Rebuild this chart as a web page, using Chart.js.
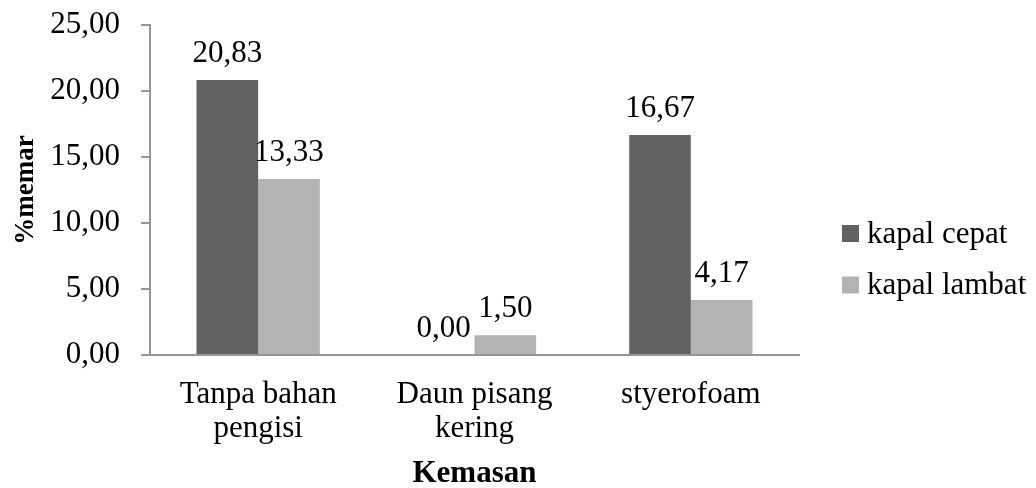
<!DOCTYPE html>
<html>
<head>
<meta charset="utf-8">
<script src="https://cdn.jsdelivr.net/npm/chart.js@4/dist/chart.umd.min.js"></script>
<style>
  html, body { margin: 0; padding: 0; background: #ffffff; }
  #wrap { width: 1036px; height: 488px; position: relative; }
</style>
</head>
<body>
<div id="wrap"><canvas id="c" width="1036" height="488"></canvas></div>
<script>
// Packaging types (category axis)
const categories = [["Tanpa bahan", "pengisi"], ["Daun pisang", "kering"], ["styerofoam"]];
// Bruising percentage per boat type
const seriesNames = ["kapal cepat", "kapal lambat"];
const kapalCepat = [20.83, 0.00, 16.67];
const kapalLambat = [13.33, 1.50, 4.17];
// Value axis ticks
const yTicks = [0, 5, 10, 15, 20, 25];

const FONT = "'Liberation Serif', 'Times New Roman', serif";
const DARK = '#626262';
const LIGHT = '#b3b3b3';
const AXIS = '#969696';

const fmt = v => Number(v).toFixed(2).replace('.', ',');

// Value labels above each bar
const valueLabels = {
  id: 'valueLabels',
  afterDatasetsDraw(chart) {
    const ctx = chart.ctx;
    ctx.save();
    ctx.font = '31px ' + FONT;
    ctx.fillStyle = '#000';
    ctx.textAlign = 'center';
    ctx.textBaseline = 'alphabetic';
    chart.data.datasets.forEach((ds, di) => {
      const meta = chart.getDatasetMeta(di);
      meta.data.forEach((bar, i) => {
        ctx.fillText(fmt(ds.data[i]), bar.x, bar.y - 18);
      });
    });
    ctx.restore();
  }
};

// Legend on the right: square swatch followed by the series name
const sideLegend = {
  id: 'sideLegend',
  afterDraw(chart) {
    const ctx = chart.ctx;
    const area = chart.chartArea;
    const boxX = area.right + 43;
    const firstTop = 225;
    const rowGap = 51.5;
    const box = 17;
    ctx.save();
    ctx.font = '31px ' + FONT;
    ctx.textBaseline = 'alphabetic';
    ctx.textAlign = 'left';
    chart.data.datasets.forEach((ds, i) => {
      const top = firstTop + i * rowGap;
      ctx.fillStyle = ds.backgroundColor;
      ctx.fillRect(boxX, top, box, box);
      ctx.fillStyle = '#000';
      ctx.fillText(ds.label, boxX + box + 8, top + box + 0.5);
    });
    ctx.restore();
  }
};

new Chart(document.getElementById('c'), {
  type: 'bar',
  data: {
    labels: categories,
    datasets: [
      { label: seriesNames[0], data: kapalCepat, backgroundColor: DARK },
      { label: seriesNames[1], data: kapalLambat, backgroundColor: LIGHT }
    ]
  },
  options: {
    responsive: false,
    animation: false,
    devicePixelRatio: 1,
    layout: { padding: { top: 25, right: 237, bottom: 0, left: 0 } },
    datasets: { bar: { categoryPercentage: 0.57, barPercentage: 1.0 } },
    plugins: {
      legend: { display: false },
      tooltip: { enabled: false }
    },
    scales: {
      x: {
        grid: { display: false, drawTicks: false },
        border: { display: true, color: AXIS, width: 2 },
        ticks: {
          color: '#000',
          font: { family: FONT, size: 31, lineHeight: 1.1 },
          padding: 23,
          maxRotation: 0,
          autoSkip: false
        },
        title: {
          display: true,
          text: 'Kemasan',
          color: '#000',
          font: { family: FONT, size: 31, weight: 'bold', lineHeight: 0.9 },
          padding: { top: 0, bottom: 0 }
        },
        afterFit(scale) { scale.height = 488 - 355; }
      },
      y: {
        min: 0,
        max: 25,
        afterBuildTicks(scale) { scale.ticks = yTicks.map(v => ({ value: v })); },
        grid: { drawOnChartArea: false, drawTicks: true, tickLength: 9, color: AXIS, lineWidth: 2 },
        border: { display: true, color: AXIS, width: 2 },
        ticks: {
          color: '#000',
          font: { family: FONT, size: 31 },
          padding: 21,
          callback: v => fmt(v)
        },
        title: {
          display: true,
          text: '%memar',
          color: '#000',
          font: { family: FONT, size: 27, weight: 'bold', lineHeight: 1.2 },
          padding: { top: 10, bottom: 0 }
        },
        afterFit(scale) {
          scale.width = 150;
          scale.paddingTop = 0;
          scale.paddingBottom = 0;
        }
      }
    }
  },
  plugins: [valueLabels, sideLegend]
});
</script>
</body>
</html>
